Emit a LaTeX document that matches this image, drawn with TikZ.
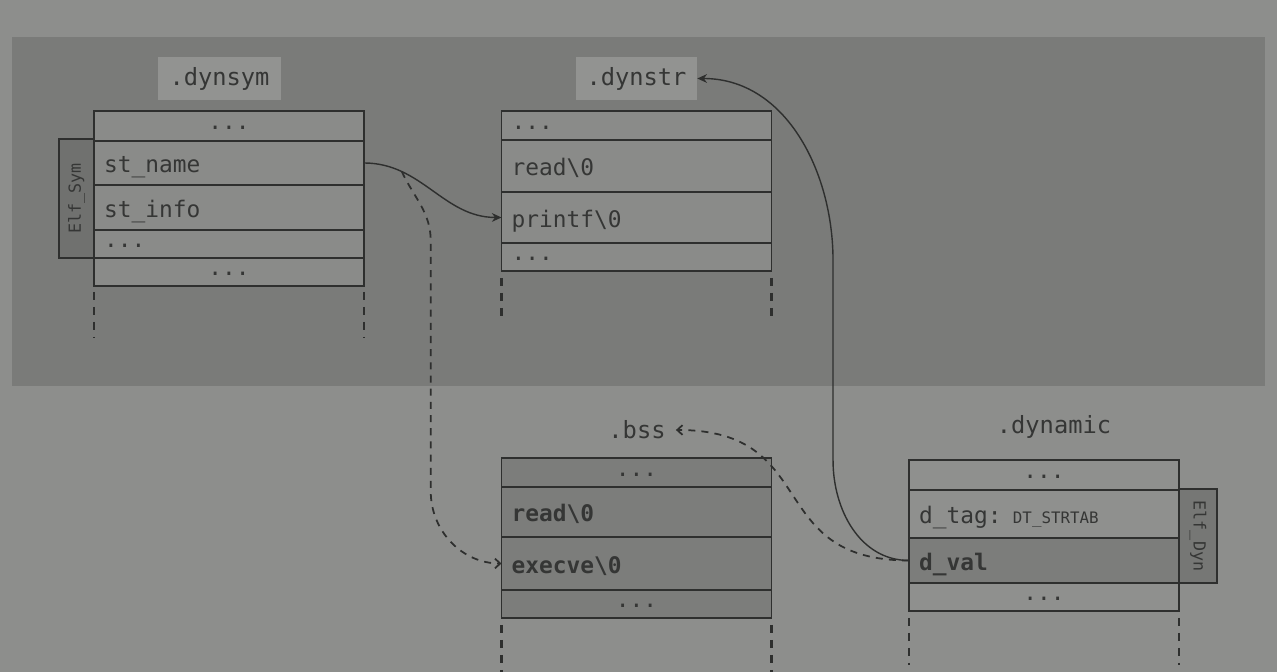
\documentclass[tikz,border=0pt]{standalone}
\usepackage{fontspec}
\setmonofont{DejaVu Sans Mono}
\usetikzlibrary{arrows.meta,positioning}

\definecolor{bgLight}{HTML}{8D8E8C}
\definecolor{bgBand}{HTML}{7A7B79}
\definecolor{cellTop}{HTML}{8A8B89}
\definecolor{cellLow}{HTML}{8F908E}
\definecolor{cellDark}{HTML}{7C7D7B}
\definecolor{lblFill}{HTML}{929391}
\definecolor{tabSym}{HTML}{70716F}
\definecolor{tabDyn}{HTML}{767775}
\definecolor{lineC}{HTML}{2E2F2E}
\definecolor{textC}{HTML}{353635}

\newcommand{\cellfont}{\ttfamily\fontsize{13}{15}\selectfont}
\newcommand{\lblfont}{\ttfamily\fontsize{13.5}{16}\selectfont}

\begin{document}
\begin{tikzpicture}[x=0.02cm,y=0.02cm,
  row/.style={draw=lineC, line width=1pt, fill=#1, outer sep=0pt,
    minimum width=5.4cm, inner xsep=0.2cm, inner ysep=0pt,
    text width=5.0cm, align=left, text=textC, font=\cellfont,
    text height=1.2em, text depth=0.1em},
  dotrow/.style={text height=0.55em, text depth=0.1em},
  dots/.style={dotrow, align=center},
  secbox/.style={fill=lblFill, text=textC, font=\lblfont, minimum height=0.86cm},
  seclbl/.style={text=textC, font=\lblfont, inner sep=0.2cm},
  tab/.style={draw=lineC, line width=0.9pt, fill=#1, text=textC,
    font=\ttfamily\fontsize{9.5}{11}\selectfont, inner sep=0pt},
  guide/.style={draw=lineC, line width=1.5pt, dash pattern=on 4.5pt off 4pt},
  link/.style={draw=lineC, line width=0.8pt, -{Stealth[length=5.5pt,width=5pt]}},
  dlink/.style={draw=lineC, line width=1pt, dash pattern=on 4pt off 3.5pt,
    -{Straight Barb[length=3pt,width=5.5pt]}}
]

% ------------------------
% Background
% ------------------------
\fill[bgLight] (0,0) rectangle (1277,672);
\useasboundingbox (0,0) rectangle (1277,672);
\fill[bgBand] (12,286) rectangle (1265,635);

% ------------------------
% .dynsym
% ------------------------
\node[secbox, minimum width=2.46cm] (dynsymLbl) at (219.5,593.5) {.dynsym};
\node[tab=tabSym, rotate=90, minimum width=2.38cm, minimum height=0.7cm]
  (symTab) at (76.5,473.5) {Elf\_Sym};

\node[row=cellTop, dots, minimum height=0.60cm, anchor=north] (symTop) at (229,561) {...};
\node[row=cellTop, minimum height=0.88cm, below=0pt of symTop] (stName) {st\_name};
\node[row=cellTop, minimum height=0.90cm, below=0pt of stName] (stInfo) {st\_info};
\node[row=cellTop, dotrow, minimum height=0.56cm, below=0pt of stInfo] (symMore) {...};
\node[row=cellTop, dots, minimum height=0.56cm, below=0pt of symMore] (symEnd) {...};

\draw[guide] ([yshift=-0.12cm]symEnd.south west) -- ++(0,-46);
\draw[guide] ([yshift=-0.12cm]symEnd.south east) -- ++(0,-46);

% ------------------------
% .dynstr
% ------------------------
\node[secbox, minimum width=2.42cm] (dynstrLbl) at (636.5,593.5) {.dynstr};

\node[row=cellTop, dotrow, minimum height=0.58cm, anchor=north] (strTop) at (636.5,561) {...};
\node[row=cellTop, minimum height=1.04cm, below=0pt of strTop] (strRead) {read\textbackslash 0};
\node[row=cellTop, minimum height=1.02cm, below=0pt of strRead] (printf) {printf\textbackslash 0};
\node[row=cellTop, dotrow, minimum height=0.56cm, below=0pt of printf] (strEnd) {...};

\draw[guide] ([yshift=-0.14cm]strEnd.south west) -- ++(0,-44);
\draw[guide] ([yshift=-0.14cm]strEnd.south east) -- ++(0,-44);

% ------------------------
% .bss
% ------------------------
\node[seclbl] (bssLbl) at (637,242) {.bss};

\node[row=cellDark, dots, minimum height=0.58cm, anchor=north] (bssTop) at (636.5,214) {...};
\node[row=cellDark, minimum height=1.00cm, below=0pt of bssTop, font=\cellfont\bfseries] (bssRead) {read\textbackslash 0};
\node[row=cellDark, minimum height=1.06cm, below=0pt of bssRead, font=\cellfont\bfseries] (execve) {execve\textbackslash 0};
\node[row=cellDark, dots, minimum height=0.56cm, below=0pt of execve] (bssEnd) {...};

\draw[guide] ([yshift=-0.14cm]bssEnd.south west) -- ++(0,-50);
\draw[guide] ([yshift=-0.14cm]bssEnd.south east) -- ++(0,-50);

% ------------------------
% .dynamic
% ------------------------
\node[seclbl] (dynamicLbl) at (1054,245) {.dynamic};
\node[tab=tabDyn, rotate=-90, minimum width=1.88cm, minimum height=0.76cm]
  (dynTab) at (1198,136) {Elf\_Dyn};

\node[row=cellLow, dots, minimum height=0.60cm, anchor=north] (dynTop) at (1044,212) {...};
\node[row=cellLow, minimum height=0.96cm, below=0pt of dynTop] (dTag)
  {d\_tag: {\fontsize{9}{10}\selectfont DT\_STRTAB}};
\node[row=cellDark, minimum height=0.90cm, below=0pt of dTag, font=\cellfont\bfseries] (dVal) {d\_val};
\node[row=cellLow, dots, minimum height=0.56cm, below=0pt of dVal] (dynEnd) {...};

\draw[guide] ([yshift=-0.14cm]dynEnd.south west) -- ++(0,-47);
\draw[guide] ([yshift=-0.14cm]dynEnd.south east) -- ++(0,-47);

% ------------------------
% Links
% ------------------------
\draw[link] (stName.east) to[out=0,in=180] coordinate[pos=0.25] (branch) (printf.west);
\draw[dlink] (branch) to[out=-65,in=90] ++(29,-70) -- ++(0,-250)
  to[out=-90,in=180] (execve.west);

\draw[link] (dVal.west) to[out=180,in=-90] ++(-76,100) -- ++(0,200)
  to[out=90,in=0] (dynstrLbl.east);
\draw[dlink] (dVal.west) to[out=180,in=0,looseness=1.4] (bssLbl.east);

\end{tikzpicture}
\end{document}
